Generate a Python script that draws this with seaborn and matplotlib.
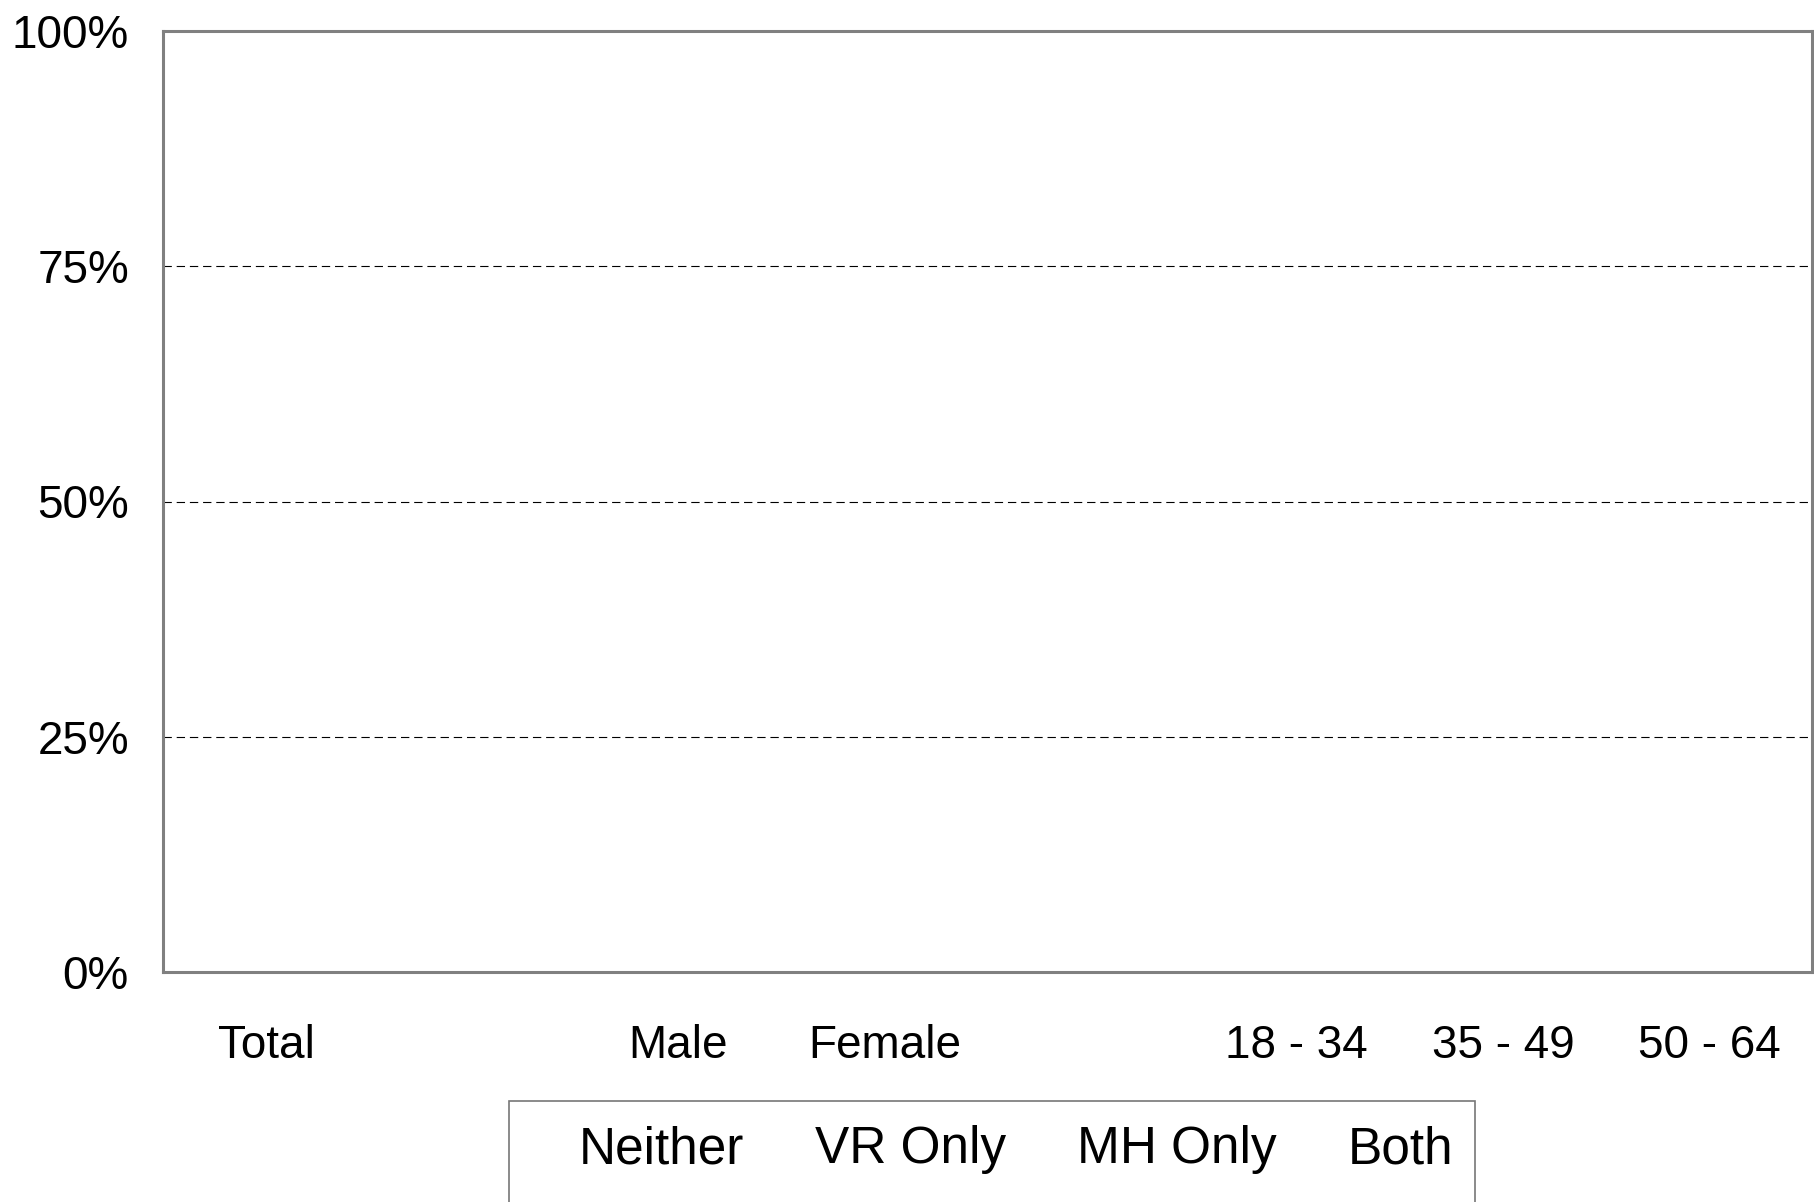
import matplotlib
matplotlib.use("Agg")
import matplotlib.pyplot as plt
from matplotlib.patches import Rectangle
from matplotlib.ticker import PercentFormatter
import pandas as pd
import seaborn as sns

# Groups along the x axis (two empty slots separate the blocks)
categories = ["Total", "", "Male", "Female", " ", "18 - 34", "35 - 49", "50 - 64"]
# Service-use status series
series = ["Neither", "VR Only", "MH Only", "Both"]
neither = [0, 0, 0, 0, 0, 0, 0, 0]
vr_only = [0, 0, 0, 0, 0, 0, 0, 0]
mh_only = [0, 0, 0, 0, 0, 0, 0, 0]
both = [0, 0, 0, 0, 0, 0, 0, 0]
y_ticks = [0, 25, 50, 75, 100]

sns.set_style("white")
plt.rcParams["font.family"] = ["Liberation Sans", "DejaVu Sans"]
plt.rcParams["lines.scale_dashes"] = False
plt.rcParams["text.color"] = "black"

rows = []
for name, vals in zip(series, [neither, vr_only, mh_only, both]):
    for cat, v in zip(categories, vals):
        rows.append({"group": cat, "status": name, "share": v})
df = pd.DataFrame(rows)

W, H = 1814, 1202
fig = plt.figure(figsize=(W / 100, H / 100), dpi=100)
ax = fig.add_axes([163 / W, 1 - 972 / H, (1812 - 163) / W, (972 - 31) / H])

sns.barplot(data=df, x="group", y="share", hue="status", order=categories,
            hue_order=series, palette=["white"] * 4, linewidth=0,
            errorbar=None, ax=ax)

ax.set_xlim(-0.5, len(categories) - 0.5)
ax.set_ylim(0, 100)
ax.set_yticks(y_ticks)
ax.yaxis.set_major_formatter(PercentFormatter(xmax=100, decimals=0))
ax.set_xlabel("")
ax.set_ylabel("")
ax.tick_params(axis="both", length=0, labelsize=33, colors="black")
ax.tick_params(axis="y", pad=24.5)
ax.tick_params(axis="x", pad=37.5)

for s in ax.spines.values():
    s.set_visible(True)
    s.set_color("#808080")
    s.set_linewidth(2.2)

ax.yaxis.grid(True, color="black", linewidth=0.8, linestyle=(0, (6, 3.5)))
ax.xaxis.grid(False)

# Rebuild the legend as a single row under the plot
leg = ax.get_legend()
handles = leg.legend_handles
labels = [t.get_text() for t in leg.get_texts()]
leg.remove()
fig.legend(handles, labels, loc="center left",
           bbox_to_anchor=(579 / W, 1 - 1150 / H), ncol=4, frameon=False,
           fontsize=37, labelcolor="black", handlelength=0, handletextpad=0,
           columnspacing=1.38, borderpad=0, borderaxespad=0)
fig.patches.append(Rectangle((509 / W, 1 - 1240 / H), (1475 - 509) / W,
                             (1240 - 1101) / H, transform=fig.transFigure,
                             fill=False, edgecolor="#777777", linewidth=1.2,
                             clip_on=False))

fig.savefig("out.png", dpi=100)
